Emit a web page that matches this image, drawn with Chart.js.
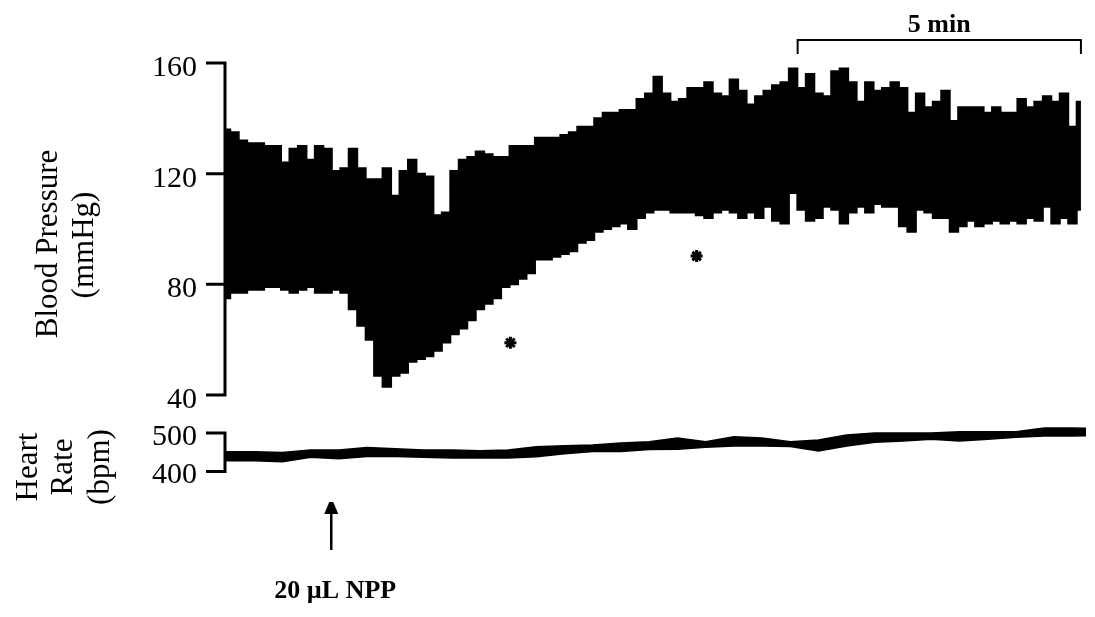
<!DOCTYPE html>
<html>
<head>
<meta charset="utf-8">
<script src="https://cdn.jsdelivr.net/npm/chart.js@4/dist/chart.umd.min.js"></script>
<style>
  html, body { margin: 0; padding: 0; background: #fff; }
  #wrap { width: 1095px; height: 617px; }
</style>
</head>
<body>
<div id="wrap"><canvas id="trace" width="1095" height="617"></canvas></div>
<script>
// Sampling of the traces (minutes)
const BP_STEP = 0.15;
const HR_STEP = 0.5;

// Blood pressure envelope (mmHg), every 0.15 min
const BP_SYSTOLIC = [
  136, 135, 132, 131, 131, 130, 130, 124, 129, 130,
  125, 130, 129, 121, 122, 129, 122, 118, 118, 122,
  112, 121, 125, 120, 119, 105, 106, 121, 125, 126,
  128, 127, 126, 126, 130, 130, 130, 133, 133, 133,
  134, 135, 137, 137, 140, 142, 142, 143, 143, 147,
  149, 155, 149, 146, 147, 151, 151, 153, 149, 148,
  154, 150, 145, 148, 150, 152, 153, 158, 151, 156,
  149, 148, 157, 158, 153, 146, 153, 150, 151, 153,
  151, 142, 149, 144, 146, 150, 139, 144, 144, 144,
  142, 144, 142, 142, 147, 144, 146, 148, 146, 149,
  137, 146
];
const BP_DIASTOLIC = [
  75, 77, 77, 78, 78, 79, 79, 78, 77, 78,
  79, 77, 77, 78, 77, 71, 65, 60, 47, 43,
  47, 48, 52, 53, 54, 56, 59, 62, 64, 67,
  71, 73, 75, 79, 80, 82, 84, 89, 89, 90,
  91, 92, 95, 96, 99, 100, 101, 102, 100, 104,
  106, 107, 107, 106, 106, 106, 105, 104, 106, 107,
  106, 104, 106, 104, 108, 103, 102, 113, 107, 103,
  104, 108, 107, 102, 106, 108, 106, 109, 108, 108,
  101, 99, 107, 106, 104, 104, 99, 101, 103, 101,
  102, 103, 102, 103, 102, 104, 103, 108, 102, 104,
  102, 107
];

// Heart rate band (bpm), every 0.5 min
const HR_UPPER = [451, 451, 449, 456, 456, 462, 459, 456, 456, 454, 456, 464, 467, 469, 474, 477,
  487, 477, 490, 487, 477, 482, 495, 500, 500, 500, 503, 503, 503, 513, 513, 512];
const HR_LOWER = [428, 428, 425, 437, 433, 439, 439, 437, 435, 435, 435, 438, 446, 452, 452, 457,
  458, 463, 466, 466, 465, 453, 466, 476, 479, 484, 479, 484, 489, 492, 492, 493];

// Significance markers [minute, mmHg]
const STAR_POINTS = [[5.04, 58.9], [8.34, 90.2]];

// Axis ticks and annotations
const BP_TICKS = [160, 120, 80, 40];
const HR_TICKS = [500, 400];
const INJECTION_MIN = 1.865;
const SCALEBAR = { from: 10.13, to: 15.15, label: '5 min' };

const FONT = "'Liberation Serif', 'DejaVu Serif', serif";

const timesOf = (arr, step) => arr.map((_, i) => +(i * step).toFixed(3));
const pairs = (arr, step) => timesOf(arr, step).map((t, i) => ({ x: t, y: arr[i] }));

// Draw the axes, labels and notes on top of the traces
const figureNotes = {
  id: 'figureNotes',
  afterDraw(chart) {
    const { ctx, scales } = chart;
    const x = scales.x, bp = scales.yBP, hr = scales.yHR;
    const axisX = x.left - 1;
    ctx.save();
    ctx.strokeStyle = '#000';
    ctx.fillStyle = '#000';
    ctx.lineCap = 'butt';

    // BP axis
    ctx.lineWidth = 3;
    ctx.beginPath();
    ctx.moveTo(axisX, bp.getPixelForValue(BP_TICKS[0]) - 1.5);
    ctx.lineTo(axisX, bp.getPixelForValue(BP_TICKS[BP_TICKS.length - 1]) + 1.5);
    BP_TICKS.forEach(v => {
      const y = bp.getPixelForValue(v);
      ctx.moveTo(axisX - 19, y);
      ctx.lineTo(axisX, y);
    });
    ctx.stroke();

    // HR bracket axis
    ctx.beginPath();
    ctx.moveTo(axisX, hr.getPixelForValue(HR_TICKS[0]) - 1.5);
    ctx.lineTo(axisX, hr.getPixelForValue(HR_TICKS[1]) + 1.5);
    HR_TICKS.forEach(v => {
      const y = hr.getPixelForValue(v);
      ctx.moveTo(axisX - 19, y);
      ctx.lineTo(axisX, y);
    });
    ctx.stroke();

    // tick labels
    ctx.font = `30px ${FONT}`;
    ctx.textAlign = 'right';
    ctx.textBaseline = 'alphabetic';
    BP_TICKS.forEach(v => ctx.fillText(String(v), 197, bp.getPixelForValue(v) + 13));
    HR_TICKS.forEach(v => ctx.fillText(String(v), 197, hr.getPixelForValue(v) + 12));

    // rotated axis titles
    const vText = (txt, baseX, cy) => {
      ctx.save();
      ctx.translate(baseX, cy);
      ctx.rotate(-Math.PI / 2);
      ctx.textAlign = 'center';
      ctx.textBaseline = 'alphabetic';
      ctx.fillText(txt, 0, 0);
      ctx.restore();
    };
    ctx.font = `31px ${FONT}`;
    vText('Blood Pressure', 57, 244);
    vText('(mmHg)', 93, 245);
    vText('Heart', 37, 467);
    vText('Rate', 72, 467);
    vText('(bpm)', 109, 467);

    // 5 min scale bar
    const sx0 = x.getPixelForValue(SCALEBAR.from);
    const sx1 = x.getPixelForValue(SCALEBAR.to);
    ctx.lineWidth = 2;
    ctx.beginPath();
    ctx.moveTo(sx0, 54);
    ctx.lineTo(sx0, 40);
    ctx.lineTo(sx1, 40);
    ctx.lineTo(sx1, 54);
    ctx.stroke();
    ctx.font = `bold 26px ${FONT}`;
    ctx.textAlign = 'center';
    ctx.fillText(SCALEBAR.label, (sx0 + sx1) / 2, 32);

    // injection arrow
    const ax = x.getPixelForValue(INJECTION_MIN);
    ctx.lineWidth = 2.5;
    ctx.beginPath();
    ctx.moveTo(ax, 512);
    ctx.lineTo(ax, 550);
    ctx.stroke();
    ctx.beginPath();
    ctx.moveTo(ax - 2, 502);
    ctx.lineTo(ax + 2, 502);
    ctx.lineTo(ax + 7, 514);
    ctx.lineTo(ax - 7, 514);
    ctx.closePath();
    ctx.fill();
    ctx.font = `bold 26px ${FONT}`;
    ctx.fillText('20 \u00B5L NPP', ax + 4, 598);

    ctx.restore();
  }
};

new Chart(document.getElementById('trace'), {
  type: 'line',
  data: {
    datasets: [
      {
        label: 'Diastolic',
        data: pairs(BP_DIASTOLIC, BP_STEP),
        yAxisID: 'yBP',
        borderColor: '#000',
        backgroundColor: '#000',
        borderWidth: 2,
        stepped: 'middle',
        fill: false
      },
      {
        label: 'Systolic',
        data: pairs(BP_SYSTOLIC, BP_STEP),
        yAxisID: 'yBP',
        borderColor: '#000',
        backgroundColor: '#000',
        borderWidth: 2,
        stepped: 'middle',
        fill: '-1'
      },
      {
        label: 'HR low',
        data: pairs(HR_LOWER, HR_STEP),
        yAxisID: 'yHR',
        borderColor: '#000',
        backgroundColor: '#000',
        borderWidth: 1.5,
        fill: false
      },
      {
        label: 'HR high',
        data: pairs(HR_UPPER, HR_STEP),
        yAxisID: 'yHR',
        borderColor: '#000',
        backgroundColor: '#000',
        borderWidth: 1.5,
        fill: '-1'
      },
      {
        label: 'Significant',
        data: STAR_POINTS.map(([t, v]) => ({ x: t, y: v })),
        yAxisID: 'yBP',
        showLine: false,
        pointStyle: 'star',
        pointRadius: 6,
        pointBorderWidth: 3,
        borderColor: '#000',
        backgroundColor: '#000'
      }
    ]
  },
  options: {
    responsive: false,
    animation: false,
    devicePixelRatio: 1,
    layout: { padding: { left: 226, right: 3, top: 63, bottom: 77 } },
    elements: { point: { radius: 0 }, line: { tension: 0 } },
    plugins: {
      legend: { display: false },
      tooltip: { enabled: false }
    },
    scales: {
      x: { type: 'linear', min: 0, max: 15.24, display: false },
      yBP: { type: 'linear', min: -12.41, max: 160, display: false },
      yHR: { type: 'linear', min: 222, max: 1461, display: false }
    }
  },
  plugins: [figureNotes]
});
</script>
</body>
</html>
